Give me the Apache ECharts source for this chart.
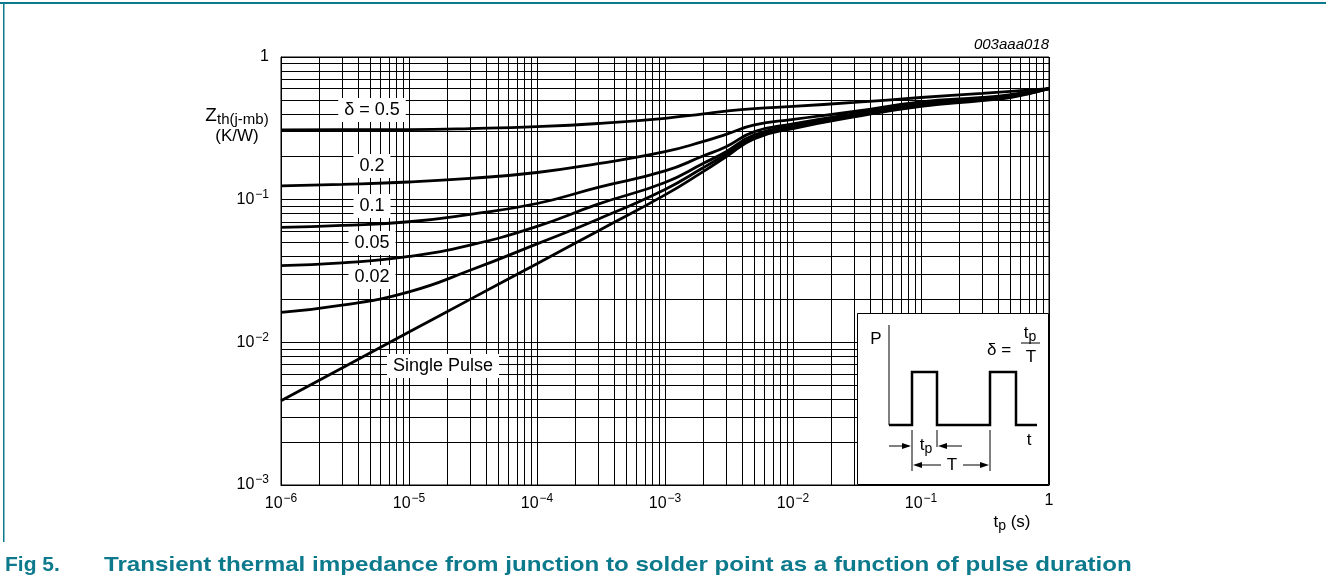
<!DOCTYPE html>
<html>
<head>
<meta charset="utf-8">
<script src="https://cdn.jsdelivr.net/npm/echarts@6/dist/echarts.min.js"></script>
<style>
  html, body { margin: 0; padding: 0; background: #fff; }
  #chart { width: 1326px; height: 586px; }
</style>
</head>
<body>
<div id="chart"></div>
<script>
// pulse duration tp (s)
const tp = [1e-6, 3e-6, 1e-5, 3e-5, 1e-4, 3e-4, 1e-3, 2e-3, 3e-3, 5e-3, 1e-2, 3e-2, 1e-1, 3e-1, 5e-1, 1];

// Zth(j-mb) (K/W) per duty cycle
const zD05 = [0.308, 0.309, 0.31, 0.315, 0.325, 0.342, 0.372, 0.4, 0.418, 0.435, 0.451, 0.48, 0.52, 0.556, 0.575, 0.6];
const zD02 = [0.125, 0.128, 0.133, 0.141, 0.155, 0.179, 0.217, 0.256, 0.287, 0.334, 0.365, 0.415, 0.485, 0.52, 0.545, 0.6];
const zD01 = [0.064, 0.066, 0.07, 0.079, 0.094, 0.122, 0.159, 0.203, 0.235, 0.3, 0.34, 0.4, 0.47, 0.51, 0.535, 0.6];
const zD005 = [0.0345, 0.036, 0.04, 0.048, 0.065, 0.093, 0.132, 0.18, 0.217, 0.285, 0.33, 0.39, 0.46, 0.505, 0.53, 0.6];
const zD002 = [0.0162, 0.0182, 0.0226, 0.032, 0.049, 0.073, 0.118, 0.168, 0.208, 0.275, 0.322, 0.385, 0.455, 0.5, 0.525, 0.6];
const zSingle = [0.0039, 0.0066, 0.0118, 0.02, 0.0356, 0.0604, 0.108, 0.158, 0.2, 0.268, 0.315, 0.38, 0.45, 0.495, 0.52, 0.6];

const curveLabels = ["δ = 0.5", "0.2", "0.1", "0.05", "0.02", "Single Pulse"];

// grid lines (log decades + minor 2..9)
const xDecades = [1e-6, 1e-5, 1e-4, 1e-3, 1e-2, 1e-1, 1];
const yDecades = [1e-3, 1e-2, 1e-1, 1];
const minorSteps = [2, 3, 4, 5, 6, 7, 8, 9];

const chart = echarts.init(document.getElementById("chart"));

const FONT = "'Liberation Sans', Arial, sans-serif";
const TEAL = "#0c7a8c";

function powLabel(v) {
  const e = Math.round(Math.log10(v));
  if (e === 0) return "{b|1}";
  return "{b|10}{s|−" + (-e) + "}";
}

// minor grid as line segments in data space
const gridSegs = [];
xDecades.slice(0, -1).forEach((d) => {
  minorSteps.forEach((m) => gridSegs.push({ coords: [[d * m, 1e-3], [d * m, 1]] }));
});
yDecades.slice(0, -1).forEach((d) => {
  minorSteps.forEach((m) => gridSegs.push({ coords: [[1e-6, d * m], [1, d * m]] }));
});

function curve(name, z) {
  return {
    name: name,
    type: "line",
    data: tp.map((t, i) => [t, z[i]]),
    symbol: "none",
    smooth: 0.5,
    lineStyle: { color: "#000", width: 2.8 },
    z: 5,
  };
}

const richTick = {
  b: { fontSize: 16, fontFamily: FONT, color: "#000" },
  s: { fontSize: 12, fontFamily: FONT, color: "#000", padding: [0, 0, 10, 1] },
};

function boxLabel(text, cx, cy) {
  return {
    type: "text",
    x: cx,
    y: cy,
    z: 20,
    style: {
      text: text,
      font: "18px " + FONT,
      fill: "#000",
      align: "center",
      verticalAlign: "middle",
      backgroundColor: "#fff",
      padding: [3, 6, 3, 6],
    },
  };
}

function seg(x1, y1, x2, y2, w) {
  return {
    type: "line",
    z: 31,
    shape: { x1: x1, y1: y1, x2: x2, y2: y2 },
    style: { stroke: "#000", lineWidth: w || 1 },
  };
}

function arrowHead(x, y, dir) {
  // dir: 1 points right, -1 points left
  return {
    type: "polygon",
    z: 31,
    shape: { points: [[x, y], [x - dir * 9, y - 3], [x - dir * 9, y + 3]] },
    style: { fill: "#000" },
  };
}

function txt(text, x, y, size, extra) {
  return {
    type: "text",
    x: x,
    y: y,
    z: 32,
    style: Object.assign({
      text: text,
      font: (size || 15) + "px " + FONT,
      fill: "#000",
      align: "center",
      verticalAlign: "middle",
    }, extra || {}),
  };
}

const insetRich = {
  t: { fontSize: 17, fontFamily: FONT, color: "#000" },
  p: { fontSize: 14, fontFamily: FONT, color: "#000", padding: [8, 0, 0, 0] },
};

const graphics = [
  // page frame lines
  { type: "rect", shape: { x: 0, y: 2, width: 1326, height: 2 }, style: { fill: TEAL }, z: 1 },
  { type: "rect", shape: { x: 3, y: 2, width: 1.5, height: 540 }, style: { fill: TEAL }, z: 1 },
  // caption
  {
    type: "text", x: 5, y: 565, z: 10,
    style: { text: "Fig 5.", font: "bold 21px " + FONT, fill: TEAL, verticalAlign: "middle" },
  },
  {
    type: "text", x: 104, y: 565, z: 10, scaleX: 1.15,
    style: {
      text: "Transient thermal impedance from junction to solder point as a function of pulse duration",
      font: "bold 21px " + FONT, fill: TEAL, verticalAlign: "middle",
    },
  },
  // figure code
  {
    type: "text", x: 1049, y: 45, z: 10,
    style: { text: "003aaa018", font: "italic 15px " + FONT, fill: "#000", align: "right", verticalAlign: "middle" },
  },
  // y axis name
  {
    type: "text", x: 237, y: 126, z: 10,
    style: {
      text: "{z|Z}{sub|th(j-mb)}\n{u|(K/W)}",
      align: "center", verticalAlign: "middle",
      rich: {
        z: { fontSize: 19, fontFamily: FONT, color: "#000", lineHeight: 21 },
        sub: { fontSize: 15, fontFamily: FONT, color: "#000", padding: [9, 0, 0, 0], lineHeight: 21 },
        u: { fontSize: 17, fontFamily: FONT, color: "#000", lineHeight: 21 },
      },
    },
  },
  // x axis name
  {
    type: "text", x: 1012, y: 522, z: 10,
    style: { text: "{t|t}{p|p}{t| (s)}", align: "center", verticalAlign: "middle", rich: insetRich },
  },
  // curve labels
  boxLabel(curveLabels[0], 372, 110),
  boxLabel(curveLabels[1], 372, 166),
  boxLabel(curveLabels[2], 372, 206),
  boxLabel(curveLabels[3], 372, 243),
  boxLabel(curveLabels[4], 372, 277),
  boxLabel(curveLabels[5], 443, 366),
  // inset
  {
    type: "rect", z: 30,
    shape: { x: 857.5, y: 313.5, width: 191, height: 171 },
    style: { fill: "#fff", stroke: "#000", lineWidth: 1 },
  },
  txt("P", 876, 339, 17),
  seg(889, 325, 889, 425, 1),
  {
    type: "polyline", z: 31,
    shape: {
      points: [[889, 425], [912, 425], [912, 372], [937, 372], [937, 425], [990, 425],
        [990, 372], [1016, 372], [1016, 425], [1037, 425]],
    },
    style: { stroke: "#000", lineWidth: 2.5, fill: null },
  },
  seg(912, 430, 912, 471),
  seg(937, 430, 937, 447),
  seg(990, 430, 990, 471),
  seg(889, 446, 909, 446),
  arrowHead(911, 446, 1),
  seg(941, 446, 962, 446),
  arrowHead(938, 446, -1),
  {
    type: "text", x: 926, y: 445, z: 32,
    style: { text: "{t|t}{p|p}", align: "center", verticalAlign: "middle", rich: insetRich },
  },
  arrowHead(913, 465, -1),
  seg(916, 465, 941, 465),
  txt("T", 952, 465, 17),
  seg(963, 465, 986, 465),
  arrowHead(989, 465, 1),
  txt("t", 1029, 440, 17),
  txt("δ =", 999, 350, 17),
  {
    type: "text", x: 1030, y: 333, z: 32,
    style: { text: "{t|t}{p|p}", align: "center", verticalAlign: "middle", rich: insetRich },
  },
  seg(1021, 343, 1040, 343, 1),
  txt("T", 1031, 357, 17),
];

const option = {
  backgroundColor: "#fff",
  animation: false,
  grid: {
    left: 281,
    top: 57,
    width: 768,
    height: 428,
    show: true,
    borderColor: "#000",
    borderWidth: 1,
  },
  xAxis: {
    type: "log",
    logBase: 10,
    min: 1e-6,
    max: 1,
    axisLine: { show: true, lineStyle: { color: "#000", width: 1 } },
    axisTick: { show: false },
    splitLine: { show: true, lineStyle: { color: "#000", width: 1 } },
    axisLabel: {
      margin: 8,
      formatter: powLabel,
      rich: richTick,
    },
  },
  yAxis: {
    type: "log",
    logBase: 10,
    min: 1e-3,
    max: 1,
    axisLine: { show: true, lineStyle: { color: "#000", width: 1 } },
    axisTick: { show: false },
    splitLine: { show: true, lineStyle: { color: "#000", width: 1 } },
    axisLabel: {
      margin: 12,
      formatter: powLabel,
      rich: richTick,
    },
  },
  series: [
    {
      name: "grid",
      type: "lines",
      coordinateSystem: "cartesian2d",
      silent: true,
      z: 1,
      lineStyle: { color: "#000", width: 1, opacity: 1 },
      data: gridSegs,
    },
    curve("0.5", zD05),
    curve("0.2", zD02),
    curve("0.1", zD01),
    curve("0.05", zD005),
    curve("0.02", zD002),
    curve("single", zSingle),
  ],
  graphic: graphics,
};

chart.setOption(option);
</script>
</body>
</html>
